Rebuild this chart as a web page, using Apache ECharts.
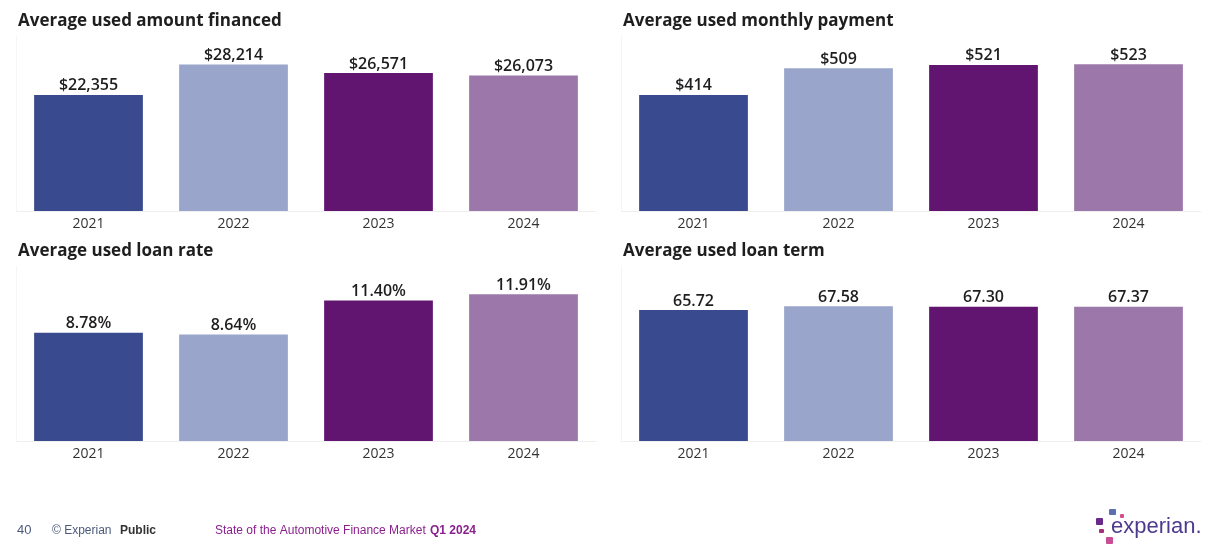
<!DOCTYPE html>
<html>
<head>
<meta charset="utf-8">
<script src="https://cdn.jsdelivr.net/npm/echarts@6/dist/echarts.min.js"></script>
<style>
  html, body { margin: 0; padding: 0; background: #fff; }
  #main { width: 1207px; height: 548px; }
</style>
</head>
<body>
<div id="main"></div>
<script>
const years = ['2021', '2022', '2023', '2024'];
const amountFinanced = [22355, 28214, 26571, 26073];
const monthlyPayment = [414, 509, 521, 523];
const loanRate = [8.78, 8.64, 11.40, 11.91];
const loanTerm = [65.72, 67.58, 67.30, 67.37];
const titles = ['Average used amount financed', 'Average used monthly payment', 'Average used loan rate', 'Average used loan term'];

const barColors = ['#3a4a8e', '#9aa5cb', '#611570', '#9c77aa'];
const font = '"Open Sans", sans-serif';

const myChart = echarts.init(document.getElementById('main'));

const grids = [
    { left: 16, top: 36, width: 580, height: 175 },
    { left: 621, top: 36, width: 580, height: 175 },
    { left: 16, top: 266, width: 580, height: 175 },
    { left: 621, top: 266, width: 580, height: 175 }
];
const maxes = [33700, 624, 14.2, 87.8];
const formatters = [
    v => '$' + v.toLocaleString('en-US'),
    v => '$' + v,
    v => v.toFixed(2) + '%',
    v => v.toFixed(2)
];
const values = [amountFinanced, monthlyPayment, loanRate, loanTerm];
const titlePos = [[18, 13], [623, 13], [18, 243], [623, 243]];

const option = {
    animation: false,
    title: titles.map((t, i) => ({
        text: t,
        left: titlePos[i][0],
        top: titlePos[i][1],
        padding: 0,
        textStyle: { fontFamily: font, fontSize: 17, fontWeight: 'bold', color: '#1e1e1e' }
    })),
    grid: grids,
    xAxis: grids.map((g, i) => ({
        type: 'category',
        gridIndex: i,
        data: years,
        axisLine: { lineStyle: { color: '#efefef' } },
        axisTick: { show: false },
        axisLabel: { fontFamily: font, fontSize: 14, color: '#333', margin: 6 }
    })),
    yAxis: grids.map((g, i) => ({
        type: 'value',
        gridIndex: i,
        min: 0,
        max: maxes[i],
        axisLine: { show: true, lineStyle: { color: '#f5f5f5' } },
        axisLabel: { show: false },
        axisTick: { show: false },
        splitLine: { show: false }
    })),
    series: values.map((vals, i) => ({
        type: 'bar',
        xAxisIndex: i,
        yAxisIndex: i,
        barWidth: '75%',
        data: vals.map((v, j) => ({ value: v, itemStyle: { color: barColors[j] } })),
        label: {
            show: true,
            position: 'top',
            distance: 1,
            fontFamily: font,
            fontSize: 16,
            fontWeight: 600,
            color: '#1e1e1e',
            formatter: p => formatters[i](p.value)
        }
    })),
    graphic: [
        { type: 'text', left: 17, top: 524, style: { text: '40', font: '13px "Liberation Sans", Arial', fill: '#4b5a7c' } },
        { type: 'text', left: 52, top: 525, style: { text: '© Experian', font: '12px "Liberation Sans", Arial', fill: '#4b5a7c' } },
        { type: 'text', left: 120, top: 525, style: { text: 'Public', font: 'bold 12px "Liberation Sans", Arial', fill: '#333' } },
        { type: 'text', left: 215, top: 525, style: { text: 'State of the Automotive Finance Market', font: '12px "Liberation Sans", Arial', fill: '#8a1f8e' } },
        { type: 'text', left: 430, top: 525, style: { text: 'Q1 2024', font: 'bold 12px "Liberation Sans", Arial', fill: '#8a1f8e' } },
        { type: 'rect', shape: { x: 1109, y: 509, width: 7, height: 6, r: 1 }, style: { fill: '#5a6fb0' } },
        { type: 'rect', shape: { x: 1120, y: 514, width: 4, height: 4, r: 1 }, style: { fill: '#d44d8c' } },
        { type: 'rect', shape: { x: 1096, y: 518, width: 7, height: 7, r: 1 }, style: { fill: '#6a2a8c' } },
        { type: 'rect', shape: { x: 1099, y: 529, width: 5, height: 4, r: 1 }, style: { fill: '#a2307a' } },
        { type: 'rect', shape: { x: 1106, y: 537, width: 7, height: 7, r: 1 }, style: { fill: '#c94d96' } },
        { type: 'text', left: 1111, top: 516, style: { text: 'experian.', font: '22px "Liberation Sans", Arial', fill: '#4d3a8e' } }
    ]
};

myChart.setOption(option);
</script>
</body>
</html>
